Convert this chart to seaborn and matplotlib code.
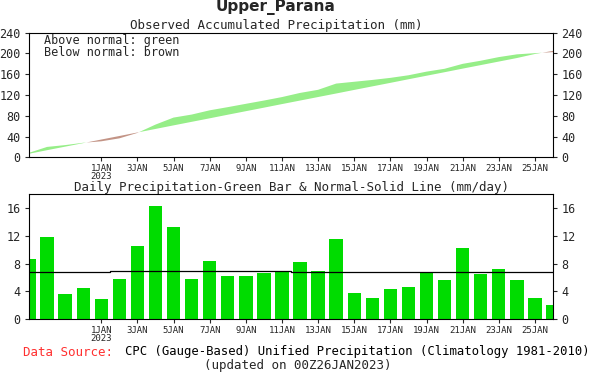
import matplotlib
matplotlib.use("Agg")
import matplotlib.pyplot as plt
import seaborn as sns
import numpy as np
import pandas as pd

# ---------------- data ----------------
dates = ["28DEC", "29DEC", "30DEC", "31DEC",
         "1JAN", "2JAN", "3JAN", "4JAN", "5JAN", "6JAN", "7JAN", "8JAN",
         "9JAN", "10JAN", "11JAN", "12JAN", "13JAN", "14JAN", "15JAN",
         "16JAN", "17JAN", "18JAN", "19JAN", "20JAN", "21JAN", "22JAN",
         "23JAN", "24JAN", "25JAN", "26JAN"]

daily_precip = [8.6, 11.8, 3.6, 4.5, 2.9, 5.8, 10.5, 16.3, 13.3, 5.8,
                8.4, 6.2, 6.2, 6.7, 6.9, 8.3, 6.9, 11.6, 3.8, 3.0,
                4.4, 4.7, 6.7, 5.7, 10.2, 6.5, 7.2, 5.6, 3.1, 2.0]

daily_normal = [6.8, 6.8, 6.8, 6.8, 6.8, 6.95, 6.95, 6.95, 6.95, 6.95,
                6.95, 6.95, 6.95, 6.95, 6.95, 6.8, 6.8, 6.8, 6.8, 6.8,
                6.8, 6.8, 6.8, 6.8, 6.8, 6.8, 6.8, 6.8, 6.8, 6.8]

accum_observed = [8.6, 20.0, 23.5, 28.0, 30.8, 36.5, 47.0, 63.0, 76.5, 82.3,
                  90.5, 96.6, 103.0, 109.3, 116.0, 124.0, 130.0, 142.0, 145.5, 149.0,
                  153.0, 158.0, 165.0, 170.5, 180.0, 186.0, 193.0, 198.3, 200.6, 202.6]

accum_normal = [6.8, 13.7, 20.5, 27.3, 34.2, 41.0, 47.8, 54.6, 61.5, 68.3,
                75.1, 82.0, 88.8, 95.6, 102.5, 109.3, 116.1, 122.9, 129.8, 136.6,
                143.4, 150.3, 157.1, 163.9, 170.8, 177.6, 184.4, 191.2, 199.0, 205.0]

tick_dates = ["1JAN", "3JAN", "5JAN", "7JAN", "9JAN", "11JAN", "13JAN",
              "15JAN", "17JAN", "19JAN", "21JAN", "23JAN", "25JAN"]
tick_labels = ["1JAN\n2023", "3JAN", "5JAN", "7JAN", "9JAN", "11JAN", "13JAN",
               "15JAN", "17JAN", "19JAN", "21JAN", "23JAN", "25JAN"]

accum_ticks = [0, 40, 80, 120, 160, 200, 240]
daily_ticks = [0, 4, 8, 12, 16]

# ---------------- style ----------------
sns.set_style("ticks")
plt.rcParams['font.family'] = ['DejaVu Sans Mono', 'DejaVu Sans']
plt.rcParams['axes.edgecolor'] = 'black'
plt.rcParams['axes.linewidth'] = 0.8

W, H = 598, 372
fig = plt.figure(figsize=(W / 100, H / 100), dpi=100)


def fx(px):
    return px / W


def fy(py):
    return 1 - py / H


ax1 = fig.add_axes([fx(29), fy(157.3), (553 - 29) / W, (157.3 - 32.7) / H])
ax2 = fig.add_axes([fx(29), fy(319.3), (553 - 29) / W, (319.3 - 194) / H])

GREEN_BAND = "#96EE88"
BROWN_BAND = "#C39486"
BAR_GREEN = "#00DC00"

# ---------------- top panel: accumulated ----------------
x = np.arange(len(dates))
obs = np.array(accum_observed)
nrm = np.array(accum_normal)
ax1.fill_between(x, nrm, obs, where=obs >= nrm, interpolate=True,
                 color=GREEN_BAND, linewidth=0)
ax1.fill_between(x, nrm, obs, where=obs <= nrm, interpolate=True,
                 color=BROWN_BAND, linewidth=0)
ax1.set_ylim(0, 240)
ax1.set_yticks(accum_ticks)

# ---------------- bottom panel: daily ----------------
df = pd.DataFrame({"date": dates, "precip": daily_precip, "normal": daily_normal,
                   "pos": x})
sns.barplot(data=df, x="date", y="precip", order=dates, color=BAR_GREEN,
            saturation=1, width=0.74, edgecolor="none", ax=ax2)
sns.lineplot(data=df, x="pos", y="normal", color="black", linewidth=0.9,
             drawstyle="steps-mid", ax=ax2)
ax2.set_ylim(0, 18)
ax2.set_yticks(daily_ticks)

tick_pos = [dates.index(d) for d in tick_dates]
for ax in (ax1, ax2):
    ax.set_xlim(0, len(dates) - 1)
    ax.set_xticks(tick_pos)
    ax.set_xticklabels(tick_labels, fontsize=6.5, linespacing=0.9)
    ax.set_xlabel("")
    ax.set_ylabel("")
    ax.tick_params(axis="y", left=True, right=True, labelleft=True,
                   labelright=True, direction="out", length=3, width=0.8,
                   labelsize=8.5, pad=3)
    ax.tick_params(axis="x", bottom=True, direction="out", length=3,
                   width=0.8, pad=1.5)
    for s in ax.spines.values():
        s.set_visible(True)
        s.set_color("black")
        s.set_linewidth(0.8)
    ax.grid(False)

# ---------------- texts ----------------
fig.text(fx(276), fy(7), "Upper_Parana", ha="center", va="center",
         fontsize=11, fontweight="bold", family="DejaVu Sans")
fig.text(fx(276.5), fy(25.5), "Observed Accumulated Precipitation (mm)",
         ha="center", va="center", fontsize=9)
fig.text(fx(44), fy(46.5), "Above normal: green\nBelow normal: brown",
         ha="left", va="center", fontsize=8.5, linespacing=0.82)
fig.text(fx(291.5), fy(187), "Daily Precipitation-Green Bar & Normal-Solid Line (mm/day)",
         ha="center", va="center", fontsize=9)
fig.text(fx(23), fy(352), "Data Source:", ha="left", va="center",
         fontsize=9, color="#FF3030")
fig.text(fx(125), fy(352), "CPC (Gauge-Based) Unified Precipitation (Climatology 1981-2010)",
         ha="left", va="center", fontsize=8.8, color="black")
fig.text(fx(298), fy(366), "(updated on 00Z26JAN2023)", ha="center",
         va="center", fontsize=9)

fig.savefig("out.png", dpi=100, facecolor="white")
